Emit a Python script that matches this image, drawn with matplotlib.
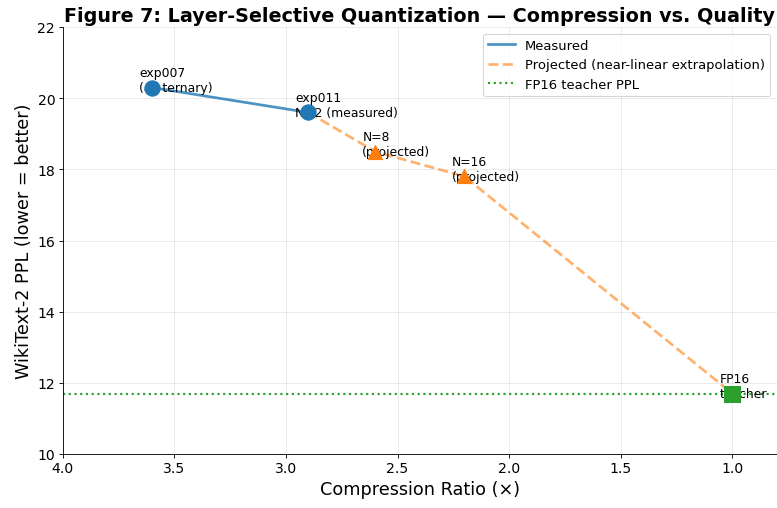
import numpy as np
import matplotlib
matplotlib.use('Agg')
import matplotlib.pyplot as plt

# measured runs
measured_ratio = [3.6, 2.9]
measured_ppl = [20.3, 19.6]
measured_labels = ['exp007\n(all ternary)', 'exp011\nN=2 (measured)']

# projected points (start at the last measured run)
projected_ratio = [2.9, 2.6, 2.2, 1.0]
projected_ppl = [19.6, 18.5, 17.8, 11.7]
projected_labels = ['N=8\n(projected)', 'N=16\n(projected)']

teacher_ratio = [1.0]
teacher_ppl = [11.7]
teacher_label = 'FP16\nteacher'

fig = plt.figure(figsize=(10, 6.55), dpi=77.7)
ax = fig.add_axes([0.0807, 0.1061, 0.9193, 0.8389])

ax.plot(measured_ratio, measured_ppl, '-', color='C0', lw=2.5, alpha=0.8, label='Measured')
ax.plot(projected_ratio, projected_ppl, '--', color='C1', lw=2.5, alpha=0.6,
        label='Projected (near-linear extrapolation)')
ax.axhline(teacher_ppl[0], color='C2', ls=':', lw=2, label='FP16 teacher PPL')

ax.scatter(measured_ratio, measured_ppl, s=200, color='C0', zorder=5)
ax.scatter(projected_ratio[1:3], projected_ppl[1:3], s=170, marker='^', color='C1', zorder=5)
ax.scatter(teacher_ratio, teacher_ppl, s=220, marker='s', color='C2', zorder=5)

#labels next to each point
for x, y, t in zip(measured_ratio, measured_ppl, measured_labels):
    ax.annotate(t, (x, y), textcoords='offset points', xytext=(-12, -3), fontsize=11.5)
for x, y, t in zip(projected_ratio[1:3], projected_ppl[1:3], projected_labels):
    ax.annotate(t, (x, y), textcoords='offset points', xytext=(-12, -3), fontsize=11.5)
ax.annotate(teacher_label, (teacher_ratio[0], teacher_ppl[0]), textcoords='offset points',
            xytext=(-12, -3), fontsize=11.5)

ax.set_xlim(4.0, 0.8)
ax.set_ylim(10, 22)
ax.set_xlabel('Compression Ratio (×)', fontsize=16.3)
ax.set_ylabel('WikiText-2 PPL (lower = better)', fontsize=16.3)
ax.set_title('Figure 7: Layer-Selective Quantization — Compression vs. Quality',
             fontsize=17.7, fontweight='bold')
ax.tick_params(labelsize=13)
ax.grid(True, alpha=0.3)
ax.spines['top'].set_visible(False)
ax.spines['right'].set_visible(False)
ax.legend(loc='upper right', fontsize=12.2)

fig.savefig('out.png', dpi=77.7)
